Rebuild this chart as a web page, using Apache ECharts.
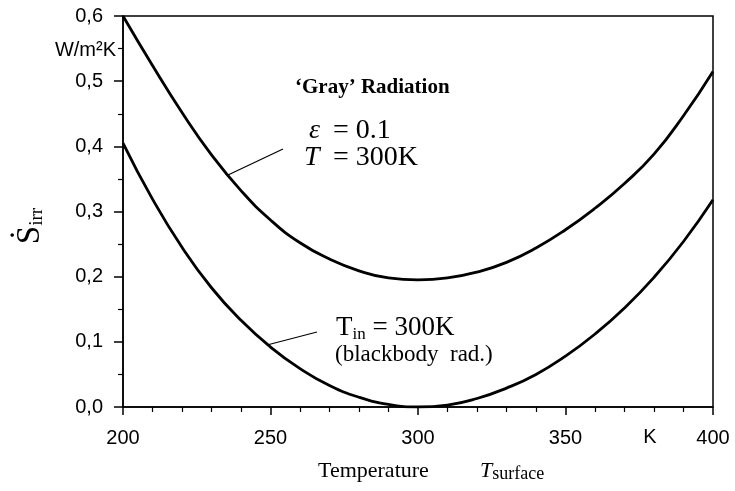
<!DOCTYPE html>
<html>
<head>
<meta charset="utf-8">
<script src="https://cdn.jsdelivr.net/npm/echarts@6/dist/echarts.min.js"></script>
<style>html,body{margin:0;padding:0;background:#fff;}#chart{width:735px;height:491px;}</style>
</head>
<body>
<div id="chart"></div>
<script>
// Temperature T_surface (K)
var temps = [200,210,220,230,240,250,260,270,280,290,300,310,320,330,340,350,360,370,380,390,400];
// 'Gray' radiation, eps = 0.1, T = 300K
var grayRad = [0.600,0.524,0.452,0.387,0.332,0.287,0.252,0.227,0.209,0.198,0.195,0.198,0.207,0.222,0.244,0.272,0.305,0.343,0.388,0.447,0.515];
// Blackbody radiation, T_in = 300K
var blackbody = [0.405,0.319,0.245,0.183,0.133,0.092,0.059,0.033,0.015,0.004,0.000,0.003,0.013,0.029,0.050,0.078,0.112,0.152,0.199,0.254,0.318];
var xTicks = [200,250,300,350,400];
var yTicks = [0,0.1,0.2,0.3,0.4,0.5,0.6];

var chart = echarts.init(document.getElementById('chart'));
var sans = 'Liberation Sans';
var serif = 'Liberation Serif';
function pairs(ys){ return temps.map(function(t,i){ return [t, ys[i]]; }); }

chart.setOption({
  animation: false,
  backgroundColor: '#fff',
  grid: { left: 123, right: 22, top: 16, bottom: 84, show: true, borderColor: '#000', borderWidth: 1.5, backgroundColor: 'transparent' },
  xAxis: {
    type: 'value', min: xTicks[0], max: xTicks[xTicks.length-1], interval: 50,
    axisLine: { show: true, lineStyle: { color: '#000', width: 1.5 } },
    axisTick: { show: true, inside: false, length: 8, lineStyle: { color: '#000', width: 1.5 } },
    minorTick: { show: true, splitNumber: 5, length: 5, lineStyle: { color: '#000', width: 1.2 } },
    splitLine: { show: false },
    axisLabel: { color: '#000', fontFamily: sans, fontSize: 20, margin: 21 }
  },
  yAxis: {
    type: 'value', min: yTicks[0], max: yTicks[yTicks.length-1], interval: 0.1,
    axisLine: { show: true, lineStyle: { color: '#000', width: 1.5 } },
    axisTick: { show: true, inside: false, length: 9, lineStyle: { color: '#000', width: 1.5 } },
    minorTick: { show: true, splitNumber: 2, length: 5, lineStyle: { color: '#000', width: 1.2 } },
    splitLine: { show: false },
    axisLabel: { color: '#000', fontFamily: sans, fontSize: 20, margin: 20,
      formatter: function(v){ return v.toFixed(1).replace('.', ','); } }
  },
  series: [
    { type: 'line', data: pairs(grayRad), smooth: 0.5, showSymbol: false,
      lineStyle: { color: '#000', width: 2.8 } },
    { type: 'line', data: pairs(blackbody), smooth: 0.5, showSymbol: false,
      lineStyle: { color: '#000', width: 2.8 } }
  ],
  graphic: [
    { type: 'text', x: 116, y: 50, style: { text: 'W/m²K', font: '20px "Liberation Sans"', fill: '#000', align: 'right', verticalAlign: 'middle' } },
    { type: 'text', x: 650, y: 437, style: { text: 'K', font: '20px "Liberation Sans"', fill: '#000', align: 'center', verticalAlign: 'middle' } },
    { type: 'text', x: 30, y: 226, rotation: Math.PI/2,
      style: { text: '{s|Ṡ}{sub|irr}', align: 'center', verticalAlign: 'middle', fill: '#000',
        rich: { s: { fontFamily: serif, fontSize: 33, lineHeight: 34, fill: '#000' },
                sub: { fontFamily: serif, fontSize: 19, lineHeight: 34, verticalAlign: 'bottom', padding: [10,0,0,0], fill: '#000' } } } },
    { type: 'text', x: 295, y: 88, style: { text: '‘Gray’ Radiation', font: 'bold 21px "Liberation Serif"', fill: '#000', align: 'left', verticalAlign: 'middle' } },
    { type: 'text', x: 309, y: 131, style: { text: 'ε', font: 'italic 28px "Liberation Serif"', fill: '#000', align: 'left', verticalAlign: 'middle' } },
    { type: 'text', x: 333, y: 131, style: { text: '= 0.1', font: '28px "Liberation Serif"', fill: '#000', align: 'left', verticalAlign: 'middle' } },
    { type: 'text', x: 304, y: 158, style: { text: 'T', font: 'italic 28px "Liberation Serif"', fill: '#000', align: 'left', verticalAlign: 'middle' } },
    { type: 'text', x: 333, y: 158, style: { text: '= 300K', font: '28px "Liberation Serif"', fill: '#000', align: 'left', verticalAlign: 'middle' } },
    { type: 'line', shape: { x1: 283, y1: 149, x2: 228, y2: 175 }, style: { stroke: '#000', lineWidth: 1.2 } },
    { type: 'text', x: 336, y: 328,
      style: { text: '{a|T}{b|in}{a| = 300K}', align: 'left', verticalAlign: 'middle', fill: '#000',
        rich: { a: { fontFamily: serif, fontSize: 27, lineHeight: 30, fill: '#000' },
                b: { fontFamily: serif, fontSize: 17, lineHeight: 30, verticalAlign: 'bottom', padding: [7,0,0,0], fill: '#000' } } } },
    { type: 'text', x: 335, y: 355, style: { text: '(blackbody  rad.)', font: '23px "Liberation Serif"', fill: '#000', align: 'left', verticalAlign: 'middle' } },
    { type: 'line', shape: { x1: 317, y1: 332, x2: 267, y2: 345 }, style: { stroke: '#000', lineWidth: 1.2 } },
    { type: 'text', x: 318, y: 471, style: { text: 'Temperature', font: '22px "Liberation Serif"', fill: '#000', align: 'left', verticalAlign: 'middle' } },
    { type: 'text', x: 480, y: 471,
      style: { text: '{a|T}{b|surface}', align: 'left', verticalAlign: 'middle', fill: '#000',
        rich: { a: { fontFamily: serif, fontStyle: 'italic', fontSize: 22, lineHeight: 24, fill: '#000' },
                b: { fontFamily: serif, fontSize: 18, lineHeight: 24, verticalAlign: 'bottom', padding: [6,0,0,0], fill: '#000' } } } }
  ]
});
</script>
</body>
</html>
